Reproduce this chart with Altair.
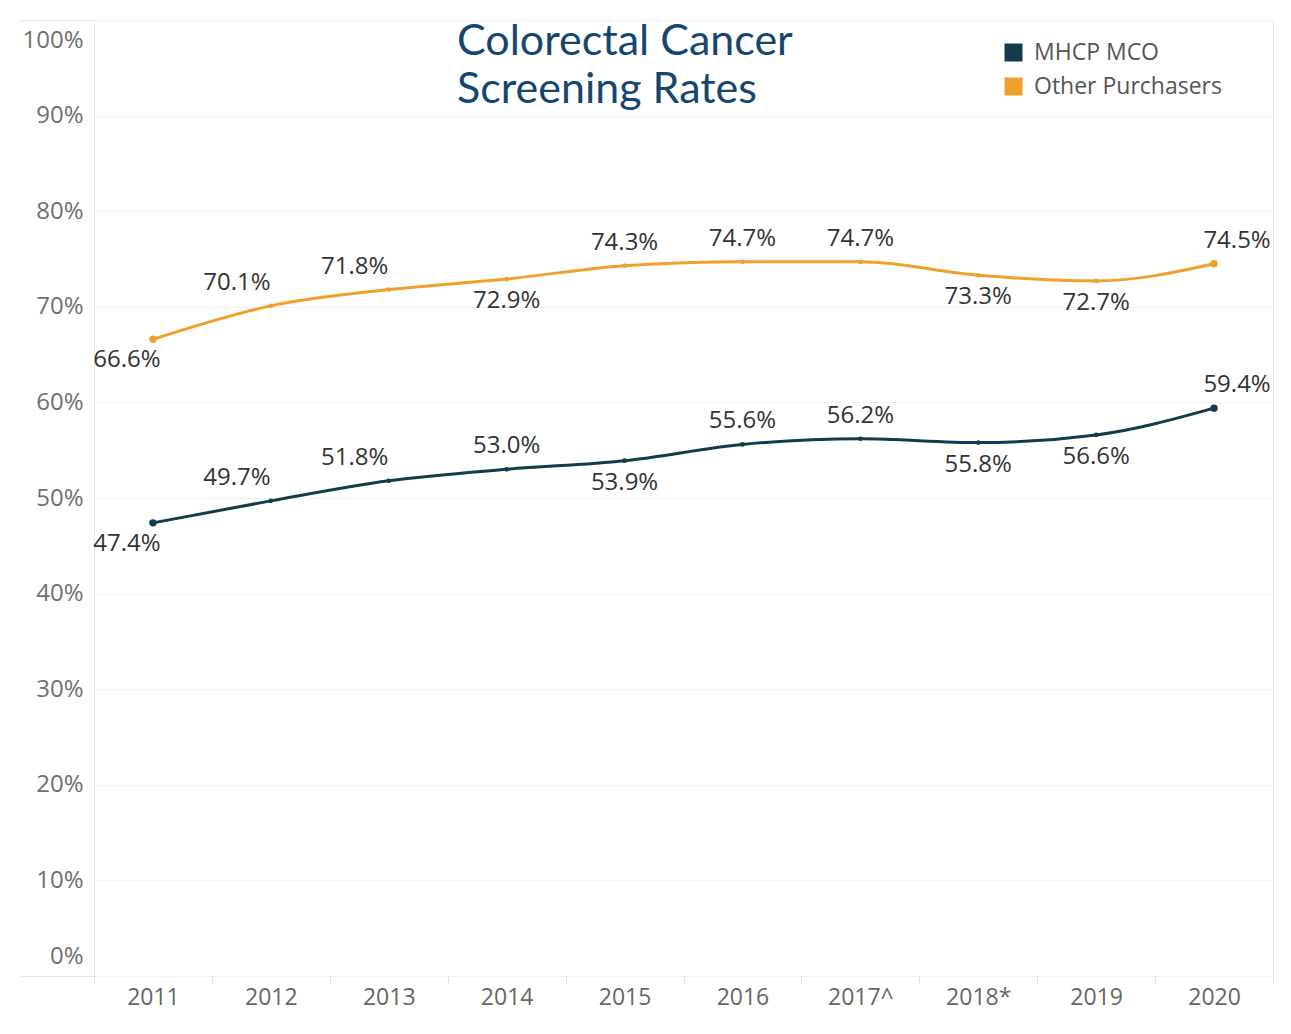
import altair as alt
import pandas as pd

years = ["2011", "2012", "2013", "2014", "2015", "2016", "2017^", "2018*", "2019", "2020"]
series_names = ["MHCP MCO", "Other Purchasers"]
mhcp = [47.4, 49.7, 51.8, 53.0, 53.9, 55.6, 56.2, 55.8, 56.6, 59.4]
other = [66.6, 70.1, 71.8, 72.9, 74.3, 74.7, 74.7, 73.3, 72.7, 74.5]
mhcp_label_pos = ["below_first", "above_left", "above_left", "above", "below",
                  "above", "above", "below", "below", "above_last"]
other_label_pos = ["below_first", "above_left", "above_left", "below", "above",
                   "above", "above", "below", "below", "above_last"]
title_lines = ["Colorectal Cancer", "Screening Rates"]
y_ticks = [i / 10 for i in range(11)]
end_years = [years[0], years[-1]]

rows = []
for name, vals, pos in [(series_names[0], mhcp, mhcp_label_pos),
                        (series_names[1], other, other_label_pos)]:
    for y, v, p in zip(years, vals, pos):
        rows.append({"year": y, "series": name, "value": v / 100, "pos": p})
df = pd.DataFrame(rows)

NAVY = "#123b4e"
ORANGE = "#f0a12c"
FONT = "Open Sans"

x_enc = alt.X(
    "year:N", sort=years,
    scale=alt.Scale(type="band", paddingInner=0, paddingOuter=0),
    axis=alt.Axis(title=None, labelAngle=0, domain=False, grid=False,
                  tickBand="extent", tickColor="#e3e3e3", tickSize=7,
                  labelFont=FONT, labelFontSize=23, labelColor="#666666",
                  labelPadding=3),
)
y_enc = alt.Y(
    "value:Q",
    scale=alt.Scale(domain=[0, 1], nice=False),
    axis=alt.Axis(title=None, values=y_ticks, format=".0%", domain=False,
                  gridColor="#f0f0f0", tickSize=74,
                  tickColor={"condition": {"test": "datum.value <= 0 || datum.value >= 1",
                                           "value": "#e3e3e3"},
                             "value": "rgba(0,0,0,0)"},
                  labelPadding=-63, labelFlush=True, labelFlushOffset=-8,
                  labelFont=FONT, labelFontSize=24, labelColor="#707070"),
)


def legend():
    return alt.Legend(title=None, orient="none", legendX=908, legendY=21,
                      symbolType="square", symbolSize=324,
                      symbolStrokeWidth=0, symbolOpacity=1,
                      labelFont=FONT, labelFontSize=23, labelLimit=400,
                      labelColor="#555555", labelOffset=9,
                      rowPadding=10, padding=0)


def series_scale():
    return alt.Scale(domain=series_names, range=[NAVY, ORANGE])


base = alt.Chart(df).encode(x=x_enc, y=y_enc)

lines = base.mark_line(interpolate="monotone", strokeWidth=3).encode(
    stroke=alt.Stroke("series:N", scale=series_scale(), legend=legend())
)
points = base.mark_point(filled=True, size=22, opacity=1).encode(
    color=alt.Color("series:N", scale=series_scale(), legend=legend())
)
end_points = base.transform_filter(
    alt.FieldOneOfPredicate(field="year", oneOf=end_years)
).mark_point(filled=True, size=55, opacity=1).encode(
    color=alt.Color("series:N", scale=series_scale(), legend=legend())
)

offsets = {
    "below_first": (-26, 21),
    "above_left": (-34, -23),
    "above": (0, -23),
    "below": (0, 22),
    "above_last": (23, -23),
}
label_layers = []
for key, (dx, dy) in offsets.items():
    label_layers.append(
        base.transform_filter(alt.datum.pos == key)
        .mark_text(dx=dx, dy=dy, font=FONT, fontSize=24, color="#333333",
                   baseline="middle", align="center")
        .encode(text=alt.Text("value:Q", format=".1%"))
    )

title = alt.Chart(pd.DataFrame({"t": [0]})).mark_text(
    font="Lato", fontSize=43, color="#16466f", align="left",
    baseline="alphabetic", lineHeight=48
).encode(x=alt.value(363), y=alt.value(35), text=alt.value(title_lines))

chart = alt.layer(lines, points, end_points, *label_layers, title).properties(
    width=1179, height=956,
    autosize=alt.AutoSizeParams(type="none"),
    padding={"left": 86, "top": 12, "right": 10, "bottom": 50},
).configure_view(stroke="#e3e3e3", strokeWidth=1)

chart.save("out.html", embed_options={"renderer": "svg", "actions": False})
